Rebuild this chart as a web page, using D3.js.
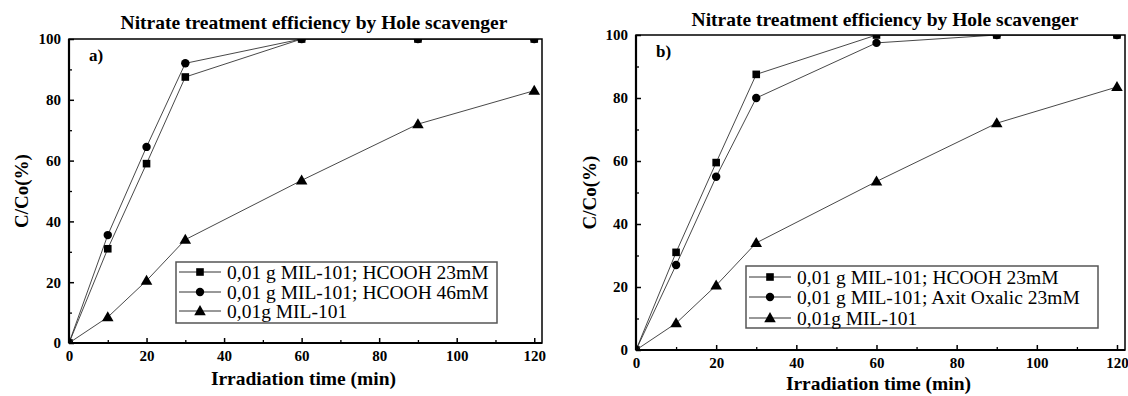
<!DOCTYPE html>
<html>
<head>
<meta charset="utf-8">
<script src="https://cdn.jsdelivr.net/npm/d3@7"></script>
<style>
  body { margin: 0; background: #fff; }
  svg { display: block; }
  text { font-family: "Liberation Serif", "Times New Roman", serif; fill: #000; }
</style>
</head>
<body>
<div id="chart"></div>
<script>
// Irradiation time (min)
const times = [0, 10, 20, 30, 60, 90, 120];

// panel a
const aHcooh23 = [0, 31, 59, 87.5, 100, 100, 100];
const aHcooh46 = [0, 35.5, 64.5, 92, 100, 100, 100];
const aMil = [0, 8.5, 20.5, 34, 53.5, 72, 83];
const aNames = ["0,01 g MIL-101; HCOOH 23mM", "0,01 g MIL-101; HCOOH 46mM", "0,01g MIL-101"];

// panel b
const bHcooh23 = [0, 31, 59.5, 87.5, 100, 100, 100];
const bOxalic = [0, 27, 55, 80, 97.5, 100, 100];
const bMil = [0, 8.5, 20.5, 34, 53.5, 72, 83.5];
const bNames = ["0,01 g MIL-101; HCOOH 23mM", "0,01 g MIL-101; Axit Oxalic 23mM", "0,01g MIL-101"];

const markers = ["square", "circle", "triangle"];
const title = "Nitrate treatment efficiency by Hole scavenger";
const xTicks = [0, 20, 40, 60, 80, 100, 120];
const yTicks = [0, 20, 40, 60, 80, 100];

const width = 1128;
const height = 396;
const serif = "'Liberation Serif', 'Times New Roman', serif";

const svg = d3.select("#chart").append("svg")
    .attr("width", width)
    .attr("height", height)
    .attr("font-family", serif);

const panels = [
    {
        id: "a", tag: "a)", names: aNames, series: [aHcooh23, aHcooh46, aMil],
        left: 69, right: 542, top: 39, bottom: 343,
        titleX: 314, titleY: 29, yLabelX: 28, xLabelY: 385,
        legend: { x: 176, y: 262, w: 321, h: 61, rows: [272, 292, 311] }
    },
    {
        id: "b", tag: "b)", names: bNames, series: [bHcooh23, bOxalic, bMil],
        left: 636, right: 1125, top: 35, bottom: 350,
        titleX: 885, titleY: 26, yLabelX: 596, xLabelY: 390,
        legend: { x: 746, y: 266, w: 352, h: 62, rows: [277, 297, 318] }
    }
];

function drawMarker(g, type, cx, cy) {
    if (type === "square") {
        g.append("rect").attr("x", cx - 3.8).attr("y", cy - 3.8)
            .attr("width", 7.6).attr("height", 7.6).attr("fill", "#000");
    } else if (type === "circle") {
        g.append("circle").attr("cx", cx).attr("cy", cy).attr("r", 4.2).attr("fill", "#000");
    } else {
        g.append("path")
            .attr("d", d3.symbol().type(d3.symbolTriangle).size(58)())
            .attr("transform", `translate(${cx},${cy + 0.8})`)
            .attr("fill", "#000");
    }
}

panels.forEach(p => {
    const g = svg.append("g").attr("class", "panel_" + p.id);

    const x = d3.scaleLinear().domain([0, 122]).range([p.left, p.right]);
    const y = d3.scaleLinear().domain([0, 100]).range([p.bottom, p.top]);

    // title
    g.append("text")
        .attr("x", p.titleX).attr("y", p.titleY)
        .attr("text-anchor", "middle")
        .style("font-family", serif)
        .style("font-size", "19.5px").style("font-weight", "bold")
        .text(title);

    // clip for data
    g.append("clipPath").attr("id", "clip_" + p.id)
        .append("rect")
        .attr("x", p.left).attr("y", p.top)
        .attr("width", p.right - p.left).attr("height", p.bottom - p.top);

    const plot = g.append("g").attr("clip-path", `url(#clip_${p.id})`);

    const line = d3.line()
        .x((d, i) => x(times[i]))
        .y(d => y(d));

    p.series.forEach((vals, k) => {
        plot.append("path")
            .datum(vals)
            .attr("d", line)
            .attr("fill", "none")
            .attr("stroke", "#333")
            .attr("stroke-width", 0.9);
        vals.forEach((v, i) => drawMarker(plot, markers[k], x(times[i]), y(v)));
    });

    // minor ticks
    g.append("g")
        .attr("transform", `translate(0,${p.bottom})`)
        .call(d3.axisBottom(x).tickValues(d3.range(10, 121, 20)).tickSize(-3).tickFormat(""))
        .call(a => a.select(".domain").remove())
        .call(a => a.selectAll("line").attr("stroke-width", 1.3));
    g.append("g")
        .attr("transform", `translate(${p.left},0)`)
        .call(d3.axisLeft(y).tickValues(d3.range(10, 100, 20)).tickSize(-3).tickFormat(""))
        .call(a => a.select(".domain").remove())
        .call(a => a.selectAll("line").attr("stroke-width", 1.3));

    // major ticks + labels
    g.append("g")
        .attr("transform", `translate(0,${p.bottom})`)
        .call(d3.axisBottom(x).tickValues(xTicks).tickSizeInner(-5).tickSizeOuter(0).tickPadding(7))
        .call(a => a.select(".domain").remove())
        .call(a => a.selectAll("line").attr("stroke-width", 1.5))
        .call(a => a.selectAll("text")
            .style("font-size", "15px").style("font-weight", "bold")
            .style("font-family", serif));
    g.append("g")
        .attr("transform", `translate(${p.left},0)`)
        .call(d3.axisLeft(y).tickValues(yTicks).tickSizeInner(-5).tickSizeOuter(0).tickPadding(8))
        .call(a => a.select(".domain").remove())
        .call(a => a.selectAll("line").attr("stroke-width", 1.5))
        .call(a => a.selectAll("text")
            .style("font-size", "15px").style("font-weight", "bold")
            .style("font-family", serif));

    // frame
    g.append("rect")
        .attr("x", p.left).attr("y", p.top)
        .attr("width", p.right - p.left).attr("height", p.bottom - p.top)
        .attr("fill", "none").attr("stroke", "#000").attr("stroke-width", 1.5);
    g.append("line")
        .attr("x1", p.left).attr("x2", p.right).attr("y1", p.bottom).attr("y2", p.bottom)
        .attr("stroke", "#000").attr("stroke-width", 2.2);
    g.append("line")
        .attr("x1", p.left).attr("x2", p.left).attr("y1", p.top).attr("y2", p.bottom)
        .attr("stroke", "#000").attr("stroke-width", 2.2);

    // panel tag
    g.append("text")
        .attr("x", p.left + 20).attr("y", p.top + 22)
        .style("font-family", serif)
        .style("font-size", "17px").style("font-weight", "bold")
        .text(p.tag);

    // axis labels
    g.append("text")
        .attr("x", (p.left + p.right) / 2 - 2).attr("y", p.xLabelY)
        .attr("text-anchor", "middle")
        .style("font-family", serif)
        .style("font-size", "19.5px").style("font-weight", "bold")
        .text("Irradiation time (min)");
    g.append("text")
        .attr("transform", `translate(${p.yLabelX},${(p.top + p.bottom) / 2}) rotate(-90)`)
        .attr("text-anchor", "middle")
        .style("font-family", serif)
        .style("font-size", "19px").style("font-weight", "bold")
        .text("C/Co(%)");

    // legend
    const L = p.legend;
    const lg = g.append("g").attr("class", "legend");
    lg.append("rect")
        .attr("x", L.x).attr("y", L.y).attr("width", L.w).attr("height", L.h)
        .attr("fill", "#fff").attr("stroke", "#555").attr("stroke-width", 1.5);
    p.names.forEach((name, k) => {
        const ry = L.rows[k];
        lg.append("line")
            .attr("x1", L.x + 3).attr("x2", L.x + 45).attr("y1", ry).attr("y2", ry)
            .attr("stroke", "#333").attr("stroke-width", 1);
        drawMarker(lg, markers[k], L.x + 24, ry);
        lg.append("text")
            .attr("x", L.x + 51).attr("y", ry + 6.5)
            .style("font-family", serif)
            .style("font-size", "19.5px")
            .text(name);
    });
});
</script>
</body>
</html>
